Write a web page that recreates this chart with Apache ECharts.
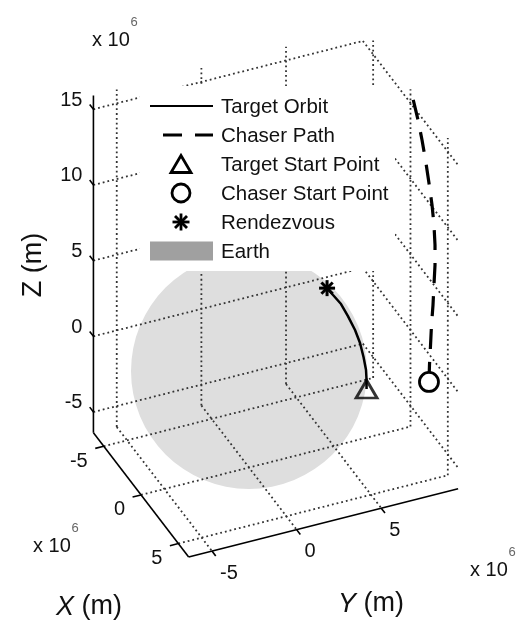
<!DOCTYPE html>
<html>
<head>
<meta charset="utf-8">
<script src="https://cdn.jsdelivr.net/npm/echarts@6/dist/echarts.min.js"></script>
<style>
  html, body { margin: 0; padding: 0; background: #fff; }
  #chart { width: 518px; height: 624px; }
</style>
</head>
<body>
<div id="chart"></div>
<script>
// ---------- data, in units of 1e6 m ----------
const xLim = [-6.378, 6.378];
const yLim = [-6.378, 9.54];
const zLim = [-6.378, 15.91];
const xTicks = [-5, 0, 5];
const yTicks = [-5, 0, 5];
const zTicks = [-5, 0, 5, 10, 15];
const earthRadius = 6.378;

// target orbit arc, from the target start point to the rendezvous point
const targetX = [5.16, 4.97, 4.77, 4.48, 4.08, 3.66, 3.14, 2.60, 2.21, 1.84];
const targetY = [4.67, 4.75, 4.81, 4.79, 4.76, 4.65, 4.46, 4.29, 3.99, 3.80];
const targetZ = [0.80, 1.32, 1.77, 2.45, 3.12, 3.74, 4.38, 4.88, 5.31, 5.58];

// chaser path, from the chaser start point upwards
const chaserX = [2.68, 2.75, 2.89, 3.02, 3.22, 3.35, 3.49, 3.49, 3.35, 3.09, 2.68, 2.28, 1.75, 1.21, 0.67, 0.34];
const chaserY = [9.45, 9.45, 9.45, 9.45, 9.45, 9.45, 9.45, 9.45, 9.45, 9.45, 9.45, 9.45, 9.45, 9.45, 9.45, 9.45];
const chaserZ = [-1.68, -0.51, 0.89, 2.30, 3.75, 5.16, 6.57, 7.89, 9.13, 10.28, 11.47, 12.53, 13.71, 14.69, 15.46, 15.91];

const targetStart = [5.16, 4.67, 0.80];
const chaserStart = [2.68, 9.45, -1.68];
const rendezvous = [1.84, 3.80, 5.58];

const legendNames = ['Target Orbit', 'Chaser Path', 'Target Start Point', 'Chaser Start Point', 'Rendezvous', 'Earth'];

// ---------- view ----------
const AZ = 66.2 * Math.PI / 180;   // azimuth
const EL = 35.1 * Math.PI / 180;   // elevation
const PX = 18.5;                   // pixels per 1e6 m
const ORIGIN = [249, 371];         // pixel position of (0,0,0)
const W = 518, H = 624;
const FONT = '"Liberation Sans", Arial, Helvetica, sans-serif';

// orthographic projection of a 3-D point onto the screen plane
function project(p) {
  const [x, y, z] = p;
  return [
    Math.cos(AZ) * x + Math.sin(AZ) * y,
    -Math.sin(EL) * Math.sin(AZ) * x + Math.sin(EL) * Math.cos(AZ) * y + Math.cos(EL) * z
  ];
}

// ---------- grid lines on the three back planes ----------
const gridSegs = [];
yTicks.forEach(y => gridSegs.push([[xLim[0], y, zLim[0]], [xLim[0], y, zLim[1]]]));
zTicks.forEach(z => gridSegs.push([[xLim[0], yLim[0], z], [xLim[0], yLim[1], z]]));
xTicks.forEach(x => gridSegs.push([[x, yLim[1], zLim[0]], [x, yLim[1], zLim[1]]]));
zTicks.forEach(z => gridSegs.push([[xLim[0], yLim[1], z], [xLim[1], yLim[1], z]]));
xTicks.forEach(x => gridSegs.push([[x, yLim[0], zLim[0]], [x, yLim[1], zLim[0]]]));
yTicks.forEach(y => gridSegs.push([[xLim[0], y, zLim[0]], [xLim[1], y, zLim[0]]]));

// ---------- axis lines and tick marks ----------
const TICK = 0.5;
const axisSegs = [
  [[xLim[0], yLim[0], zLim[0]], [xLim[0], yLim[0], zLim[1]]],
  [[xLim[0], yLim[0], zLim[0]], [xLim[1], yLim[0], zLim[0]]],
  [[xLim[1], yLim[0], zLim[0]], [xLim[1], yLim[1], zLim[0]]]
];
zTicks.forEach(z => axisSegs.push([[xLim[0], yLim[0], z], [xLim[0] - TICK, yLim[0], z]]));
xTicks.forEach(x => axisSegs.push([[x, yLim[0], zLim[0]], [x, yLim[0] - TICK, zLim[0]]]));
yTicks.forEach(y => axisSegs.push([[xLim[1], y, zLim[0]], [xLim[1] + TICK, y, zLim[0]]]));

function segmentSeries(segs, style, z) {
  return {
    type: 'custom',
    coordinateSystem: 'cartesian2d',
    silent: true,
    clip: false,
    z: z,
    data: segs.map(([a, b]) => [...project(a), ...project(b)]),
    renderItem(params, api) {
      const p1 = api.coord([api.value(0), api.value(1)]);
      const p2 = api.coord([api.value(2), api.value(3)]);
      return { type: 'line', shape: { x1: p1[0], y1: p1[1], x2: p2[0], y2: p2[1] }, style: style };
    }
  };
}

function tickLabelSeries(points, values, dx, dy, align) {
  return {
    type: 'custom',
    coordinateSystem: 'cartesian2d',
    silent: true,
    clip: false,
    z: 15,
    data: points.map((p, i) => [...project(p), values[i]]),
    renderItem(params, api) {
      const c = api.coord([api.value(0), api.value(1)]);
      return {
        type: 'text', x: c[0] + dx, y: c[1] + dy,
        style: { text: String(api.value(2)), align: align, verticalAlign: 'middle', font: '20px ' + FONT, fill: '#111' }
      };
    }
  };
}

// eight-armed asterisk centred on (cx, cy)
function asterisk(cx, cy, r, lw) {
  const d = r * Math.SQRT1_2;
  const st = { stroke: '#000', lineWidth: lw };
  return [
    { type: 'line', shape: { x1: cx, y1: cy - r, x2: cx, y2: cy + r }, style: st },
    { type: 'line', shape: { x1: cx - r, y1: cy, x2: cx + r, y2: cy }, style: st },
    { type: 'line', shape: { x1: cx - d, y1: cy - d, x2: cx + d, y2: cy + d }, style: st },
    { type: 'line', shape: { x1: cx - d, y1: cy + d, x2: cx + d, y2: cy - d }, style: st }
  ];
}

// ---------- legend ----------
const LEG = { x: 140, y: 86, w: 255, h: 185, lineX0: 150, lineX1: 213, cx: 181, textX: 221, row0: 106, gap: 29 };
function legendElements() {
  const rowY = legendNames.map((_, i) => LEG.row0 + i * LEG.gap);
  const els = [
    { type: 'rect', shape: { x: LEG.x, y: LEG.y, width: LEG.w, height: LEG.h }, style: { fill: '#fff' } },
    { type: 'line', shape: { x1: LEG.lineX0, y1: rowY[0], x2: LEG.lineX1, y2: rowY[0] }, style: { stroke: '#000', lineWidth: 2.2 } },
    { type: 'line', shape: { x1: LEG.lineX0, y1: rowY[1], x2: LEG.lineX1, y2: rowY[1] }, style: { stroke: '#000', lineWidth: 3.2, lineDash: [19, 13], lineDashOffset: 19 } },
    { type: 'polygon', shape: { points: [[LEG.cx, rowY[2] - 8.5], [LEG.cx - 10, rowY[2] + 8.5], [LEG.cx + 10, rowY[2] + 8.5]] }, style: { fill: 'none', stroke: '#000', lineWidth: 2.8 } },
    { type: 'circle', shape: { cx: LEG.cx, cy: rowY[3], r: 9 }, style: { fill: 'none', stroke: '#000', lineWidth: 2.8 } },
    ...asterisk(LEG.cx, rowY[4], 8.5, 2.8),
    { type: 'rect', shape: { x: LEG.lineX0, y: rowY[5] - 9.5, width: LEG.lineX1 - LEG.lineX0, height: 19 }, style: { fill: '#a0a0a0' } }
  ];
  legendNames.forEach((name, i) => {
    els.push({ type: 'text', x: LEG.textX, y: rowY[i] + 1, style: { text: name, font: '20.5px ' + FONT, fill: '#111', align: 'left', verticalAlign: 'middle' } });
  });
  return els;
}

// axis titles and exponent labels
const textEls = [
  { type: 'text', x: 34, y: 265, rotation: Math.PI / 2, style: { text: 'Z (m)', font: '27px ' + FONT, fill: '#111', align: 'center', verticalAlign: 'middle' } },
  { type: 'text', x: 89, y: 607, style: { text: '{i|X} (m)', rich: { i: { font: 'italic 27px ' + FONT, fill: '#111' } }, font: '27px ' + FONT, fill: '#111', align: 'center', verticalAlign: 'middle' } },
  { type: 'text', x: 371, y: 604, style: { text: '{i|Y} (m)', rich: { i: { font: 'italic 27px ' + FONT, fill: '#111' } }, font: '27px ' + FONT, fill: '#111', align: 'center', verticalAlign: 'middle' } }
];
[[92, 40], [33, 546], [470, 570]].forEach(([x, y]) => {
  textEls.push({ type: 'text', x: x, y: y, style: { text: 'x 10', font: '20px ' + FONT, fill: '#111', align: 'left', verticalAlign: 'middle' } });
  textEls.push({ type: 'text', x: x + 42, y: y - 18, style: { text: '6', font: '13px ' + FONT, fill: '#666', align: 'center', verticalAlign: 'middle' } });
});

const chart = echarts.init(document.getElementById('chart'), null, { renderer: 'canvas' });
chart.setOption({
  animation: false,
  backgroundColor: '#fff',
  grid: { left: 0, top: 0, width: W, height: H },
  xAxis: { type: 'value', min: -ORIGIN[0] / PX, max: (W - ORIGIN[0]) / PX, show: false },
  yAxis: { type: 'value', min: -(H - ORIGIN[1]) / PX, max: ORIGIN[1] / PX, show: false },
  graphic: textEls,
  series: [
    // Earth, drawn as the projected outline of the sphere
    {
      type: 'custom', coordinateSystem: 'cartesian2d', silent: true, clip: false, z: 1,
      data: [project([0, 0, 0])],
      renderItem(params, api) {
        const c = api.coord([api.value(0), api.value(1)]);
        const r = api.size([earthRadius, 0])[0];
        return { type: 'circle', shape: { cx: c[0], cy: c[1], r: r }, style: { fill: '#dedede' } };
      }
    },
    segmentSeries(gridSegs, { stroke: '#333', lineWidth: 1.8, lineDash: [1.8, 3] }, 2),
    // legend box, painted over the grid and the Earth
    {
      type: 'custom', coordinateSystem: 'none', silent: true, z: 10,
      data: [0],
      renderItem() { return { type: 'group', children: legendElements() }; }
    },
    segmentSeries(axisSegs, { stroke: '#000', lineWidth: 1.6 }, 15),
    tickLabelSeries(zTicks.map(z => [xLim[0], yLim[0], z]), zTicks, -11, -9, 'right'),
    tickLabelSeries(xTicks.map(x => [x, yLim[0], zLim[0]]), xTicks, -16, 15, 'right'),
    tickLabelSeries(yTicks.map(y => [xLim[1], y, zLim[0]]), yTicks, 8, 22, 'left'),
    {
      name: legendNames[0], type: 'line', z: 20, silent: true, showSymbol: false,
      data: targetX.map((x, i) => project([x, targetY[i], targetZ[i]])),
      lineStyle: { color: '#000', width: 2.5 }
    },
    {
      name: legendNames[1], type: 'line', z: 20, silent: true, showSymbol: false,
      data: chaserX.map((x, i) => project([x, chaserY[i], chaserZ[i]])),
      lineStyle: { color: '#000', width: 3.2, type: [20, 13] }
    },
    {
      name: legendNames[2], type: 'scatter', z: 21, silent: true,
      data: [project(targetStart)], symbol: 'triangle', symbolSize: [21, 18],
      itemStyle: { color: 'transparent', borderColor: '#000', borderWidth: 2.8 }
    },
    {
      name: legendNames[3], type: 'scatter', z: 21, silent: true,
      data: [project(chaserStart)], symbol: 'circle', symbolSize: 19,
      itemStyle: { color: '#fff', borderColor: '#000', borderWidth: 2.8, opacity: 1 }
    },
    {
      name: legendNames[4], type: 'custom', coordinateSystem: 'cartesian2d', z: 21, silent: true, clip: false,
      data: [project(rendezvous)],
      renderItem(params, api) {
        const c = api.coord([api.value(0), api.value(1)]);
        return { type: 'group', children: asterisk(c[0], c[1], 8, 3) };
      }
    }
  ]
});
</script>
</body>
</html>
